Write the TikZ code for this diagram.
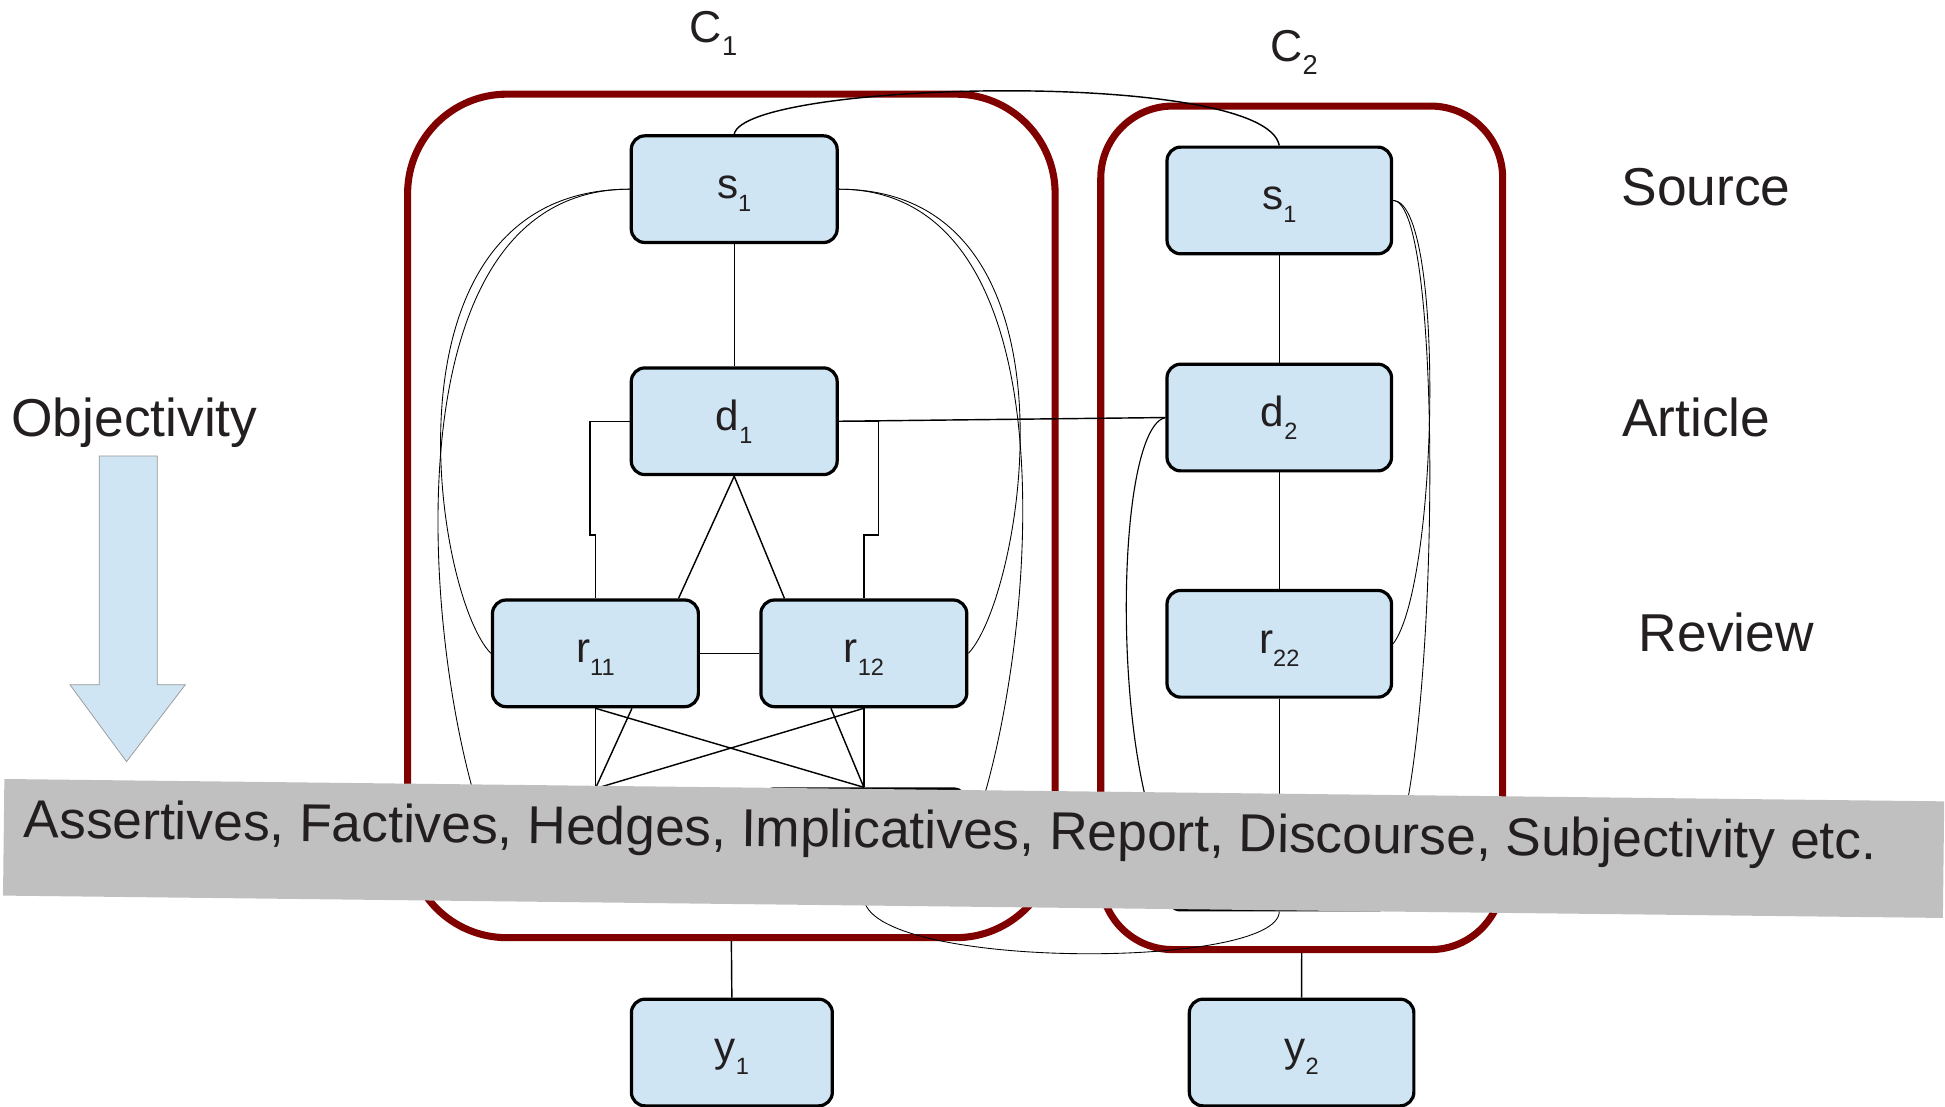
\documentclass[tikz,border=0pt]{standalone}
\usepackage{fontspec}
\setmainfont{Liberation Sans}
\usetikzlibrary{calc}
\definecolor{nodeblue}{RGB}{207,229,243}
\definecolor{clusterred}{RGB}{128,0,0}
\definecolor{bandgray}{RGB}{192,192,192}
\definecolor{inkgray}{RGB}{35,31,32}
% variable with a lowered index
\newcommand\vlab[2]{#1\raisebox{-10.5pt}{\fontsize{19}{19}\selectfont #2}}
\begin{document}
\begin{tikzpicture}[x=1pt,y=-1pt,
  vbox/.style={draw=black, line width=2.6pt, fill=nodeblue, rounded corners=11pt,
    minimum width=166pt, minimum height=86pt, inner sep=0pt, text=inkgray,
    font=\fontsize{34}{40}\selectfont, text height=20pt, text depth=5pt},
  wbox/.style={vbox, minimum width=181pt},
  cluster/.style={draw=clusterred, line width=5.7pt, inner sep=0pt},
  conn/.style={line width=1.15pt, black},
  thincurve/.style={line width=0.7pt, black},
  heading/.style={text=inkgray, font=\fontsize{43}{50}\selectfont, inner sep=0pt, anchor=base west},
]
\useasboundingbox (0,0) rectangle (1568,892);

% clusters
\node[cluster, minimum width=522pt, minimum height=680pt, rounded corners=80pt] (c1) at (589.6,415.9) {};
\node[cluster, minimum width=324pt, minimum height=680pt, rounded corners=58pt] (c2) at (1049.4,425.5) {};
\node[heading, font=\fontsize{36}{40}\selectfont] (c1lab) at (556,34) {C\raisebox{-10.4pt}{\fontsize{22}{22}\selectfont 1}};
\node[heading, font=\fontsize{36}{40}\selectfont] (c2lab) at (1024,49.3) {C\raisebox{-10.4pt}{\fontsize{22}{22}\selectfont 2}};

% variables
\node[vbox] (s1a) at (591.9,152.5) {\vlab{s}{1}};
\node[vbox] (d1) at (591.9,339.6) {\vlab{d}{1}};
\node[vbox] (r11) at (480,526.7) {\vlab{r}{11}};
\node[vbox] (r12) at (696.4,526.7) {\vlab{r}{12}};
\node[wbox] (s1b) at (1031.3,161.6) {\vlab{s}{1}};
\node[wbox] (d2) at (1031.3,336.6) {\vlab{d}{2}};
\node[wbox] (r22) at (1031.3,519) {\vlab{r}{22}};
\node[vbox, minimum width=162pt] (y1) at (590,848.5) {\vlab{y}{1}};
\node[wbox] (y2) at (1049.3,848.5) {\vlab{y}{2}};
% feature nodes (covered by the band)
\node[vbox] (f11) at (480,680) {};
\node[vbox] (f12) at (696.4,679) {};
\node[wbox] (f2) at (1031.3,690.5) {};

% edges
\draw[conn] (s1a) -- (d1);
\draw[conn] (s1b) -- (d2);
\draw[conn] (d2) -- (r22);
\draw[conn] (r22) -- (f2);
\draw[conn] (r11) -- (r12);
\draw[conn] (d1.east) -- (d2.west);
\draw[conn] (d1.east) -- ++(32,0) |- ($(r12.north)+(0,-51)$) -- (r12.north);
\draw[conn] (d1.west) -- ++(-32,0) |- ($(r11.north)+(0,-51)$) -- (r11.north);
\draw[conn] (d1.south) -- ($(r11.north)+(67,0)$);
\draw[conn] (d1.south) -- ($(r12.north)+(-64,0)$);
\draw[conn] (r11.south) -- (f11.north);
\draw[conn] ($(r11.south)+(29.5,0)$) -- (f11.north);
\draw[conn] (r11.south) -- (f12.north);
\draw[conn] (r12.south) -- (f11.north);
\draw[conn] ($(r12.south)+(-26.5,0)$) -- (f12.north);
\draw[conn] (r12.south) -- (f12.north);
\draw[conn] (c1.south) -- (y1.north);
\draw[conn] (c2.south) -- (y2.north);

\draw[conn] (s1a.north) .. controls (600,65) and (1020,55) .. (s1b.north);
\draw[thincurve] (s1a.west) .. controls (300,152.5) and (350,480) .. (r11.west);
\draw[thincurve] (s1a.west) .. controls (300,152.5) and (345,560) .. (f11.west);
\draw[thincurve] (s1a.east) .. controls (880,152.5) and (825,480) .. (r12.east);
\draw[thincurve] (s1a.east) .. controls (880,152.5) and (830,560) .. (f12.east);
\draw[thincurve] (s1b.east) .. controls (1165,162) and (1160,470) .. (r22.east);
\draw[thincurve] (s1b.east) .. controls (1165,162) and (1160,600) .. (f2.east);
\draw[line width=0.9pt] (d2.west) .. controls (900,345) and (895,600) .. (f2.west);
\draw[thincurve] (f12.south) .. controls (698,782) and (1031,782) .. (f2.south);

% objectivity arrow
\draw[fill=nodeblue, draw=gray!80, line width=0.6pt] (80,367.6) -- (126.8,367.6) -- (126.8,552) -- (149.4,552) -- (102,614) -- (56.4,552) -- (80,552) -- cycle;

% level headings
\node[heading] (objectivity) at (9,351.5) {Objectivity};
\node[heading] (source) at (1307,165.5) {Source};
\node[heading] (article) at (1307.5,351.5) {Article};
\node[heading] (review) at (1321,525) {Review};

% feature band
\node[fill=bandgray, rotate=-0.66, minimum width=1564pt, minimum height=94pt, inner sep=0pt] (band) at (784.9,684) {};
\node[heading, rotate=-0.66] (bandtext) at (19,675.5) {Assertives, Factives, Hedges, Implicatives, Report, Discourse, Subjectivity etc.};
\end{tikzpicture}
\end{document}
